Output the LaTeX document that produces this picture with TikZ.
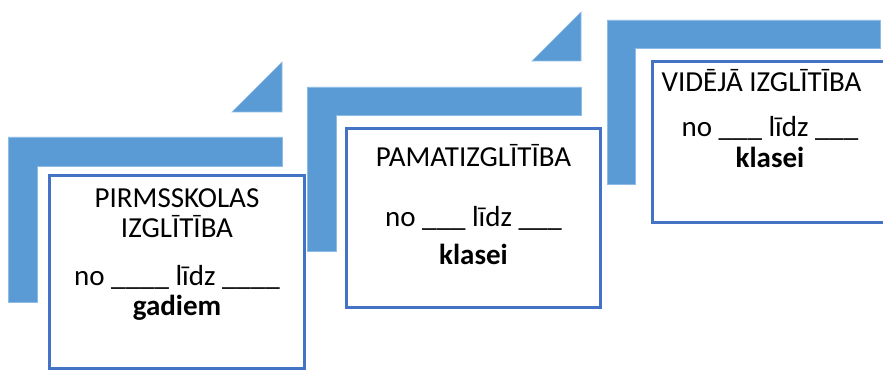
\documentclass[tikz,border=0pt]{standalone}
\usepackage{fontspec}
\setmainfont{Carlito}
\definecolor{barblue}{HTML}{5B9BD5}
\definecolor{baredge}{HTML}{8FBCE6}
\definecolor{cardblue}{HTML}{4472C4}
\begin{document}
\begin{tikzpicture}[x=1pt,y=-1pt,
  bar/.style={fill=barblue,draw=baredge,line width=0.6pt},
  card/.style={draw=cardblue,line width=3pt,fill=white},
  txt/.style={anchor=base,inner sep=0pt,font=\fontsize{29}{30}\selectfont}]
\useasboundingbox (0,0) rectangle (883,371);
\clip (0,0) rectangle (883,371);
% step 1
\fill[bar] (8,137) -- (282,137) -- (282,166) -- (37,166) -- (37,302) -- (8,302) -- cycle;
\fill[bar] (232,112) -- (282,112) -- (282,62) -- cycle;
% step 2
\fill[bar] (307,87) -- (581,87) -- (581,115) -- (336,115) -- (336,251) -- (307,251) -- cycle;
\fill[bar] (532,61) -- (581,61) -- (581,12) -- cycle;
% step 3
\fill[bar] (607,20) -- (880,20) -- (880,48) -- (635,48) -- (635,184) -- (607,184) -- cycle;
% cards
\filldraw[card] (49.5,175.5) rectangle (304.5,368);
\filldraw[card] (346.5,128.5) rectangle (600.5,307);
\filldraw[card] (652.5,61.5) rectangle (905,223);
% texts card 1
\node[txt] (t1a) at (177,208) {PIRMSSKOLAS};
\node[txt] (t1b) at (177,238) {IZGLĪTĪBA};
\node[txt] (t1c) at (177,285) {no \_\_\_\_ līdz \_\_\_\_};
\node[txt] (t1d) at (177,315) {\bfseries gadiem};
% texts card 2
\node[txt] (t2a) at (473.5,167) {PAMATIZGLĪTĪBA};
\node[txt] (t2b) at (473.5,227) {no \_\_\_ līdz \_\_\_};
\node[txt] (t2c) at (473.5,265) {\bfseries klasei};
% texts card 3
\node[txt] (t3a) at (761.5,92) {VIDĒJĀ IZGLĪTĪBA};
\node[txt] (t3b) at (770,137) {no \_\_\_ līdz \_\_\_};
\node[txt] (t3c) at (770,168) {\bfseries klasei};
\end{tikzpicture}
\end{document}
